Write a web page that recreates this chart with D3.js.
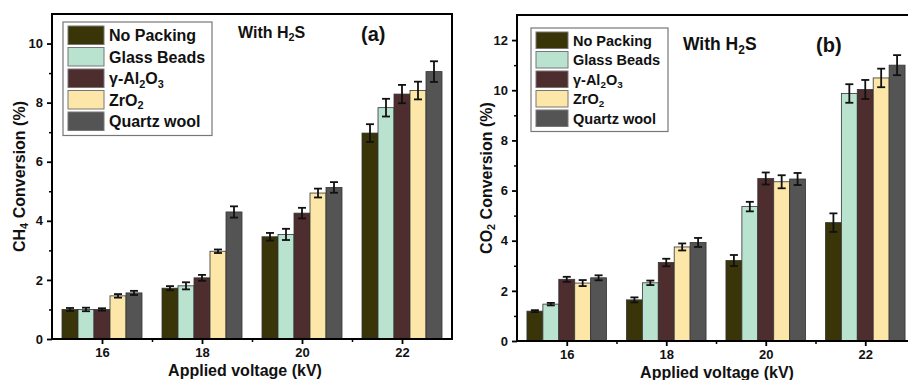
<!DOCTYPE html>
<html>
<head>
<meta charset="utf-8">
<script src="https://cdn.jsdelivr.net/npm/d3@7"></script>
<style>
  body { margin: 0; background: #fff; }
  text { font-family: "Liberation Sans", Arial, sans-serif; font-weight: bold; fill: #111; }
</style>
</head>
<body>
<div id="chart-area"></div>
<script>
// data
const voltages = [16, 18, 20, 22]
const packings = ["No Packing", "Glass Beads", "γ-Al2O3", "ZrO2", "Quartz wool"]
const colors = ["#3a3509", "#b9e3cf", "#4e2d2e", "#fde7a8", "#545454"]

// CH4 conversion (%), one array per packing, errors alongside
const ch4NoPacking = [1.00, 1.72, 3.46, 6.97]
const ch4Glass     = [1.00, 1.80, 3.54, 7.83]
const ch4Alumina   = [1.00, 2.07, 4.26, 8.29]
const ch4Zirconia  = [1.46, 2.97, 4.94, 8.41]
const ch4Quartz    = [1.56, 4.30, 5.13, 9.05]
const ch4Err = [
  [0.05, 0.07, 0.13, 0.30],
  [0.06, 0.12, 0.19, 0.30],
  [0.04, 0.10, 0.18, 0.31],
  [0.06, 0.06, 0.15, 0.30],
  [0.07, 0.19, 0.18, 0.35]
]

// CO2 conversion (%)
const co2NoPacking = [1.19, 1.64, 3.21, 4.72]
const co2Glass     = [1.47, 2.32, 5.36, 9.87]
const co2Alumina   = [2.46, 3.13, 6.48, 10.03]
const co2Zirconia  = [2.31, 3.75, 6.35, 10.49]
const co2Quartz    = [2.52, 3.93, 6.46, 11.00]
const co2Err = [
  [0.04, 0.10, 0.22, 0.37],
  [0.05, 0.09, 0.19, 0.37],
  [0.10, 0.15, 0.24, 0.38],
  [0.12, 0.14, 0.26, 0.37],
  [0.10, 0.18, 0.24, 0.40]
]

const ch4Ticks = [0, 2, 4, 6, 8, 10]
const co2Ticks = [0, 2, 4, 6, 8, 10, 12]

const svg = d3.select("#chart-area")
  .append("svg")
  .attr("width", 908)
  .attr("height", 380)

svg.append("rect").attr("width", 908).attr("height", 380).attr("fill", "#fff")

// writes "Al2O3"-like strings with subscripted digits
function chemText(sel, str) {
  const parts = str.split(/(\d)/).filter(p => p !== "")
  let afterSub = false
  parts.forEach(p => {
    if (/\d/.test(p)) {
      // 0.3em of the small font, measured in the small font
      sel.append("tspan").attr("font-size", "0.68em").attr("dy", "0.3em").text(p)
      afterSub = true
    } else {
      const t = sel.append("tspan").text(p)
      if (afterSub) t.attr("dy", "-0.204em")
      afterSub = false
    }
  })
}

function drawPanel(cfg) {
  const { left, top, width, height } = cfg
  const g = svg.append("g").attr("transform", `translate(${left},${top})`)

  const xScale = d3.scaleLinear().domain([15, 23]).range([0, width])
  const yScale = d3.scaleLinear().domain([0, cfg.yMax]).range([height, 0])
  const barW = xScale(15.32) - xScale(15)

  const clip = "clip-" + cfg.id
  g.append("clipPath").attr("id", clip)
    .append("rect").attr("x", -1).attr("y", -1).attr("width", width + 2).attr("height", height + 2)

  const rows = []
  cfg.series.forEach((vals, s) => {
    vals.forEach((v, i) => rows.push({ s, x: voltages[i], v, e: cfg.errs[s][i] }))
  })
  const barX = d => xScale(d.x) + (d.s - 2.5) * barW

  const marks = g.append("g").attr("clip-path", `url(#${clip})`)
  marks.selectAll("rect.bar")
    .data(rows)
    .join("rect")
    .attr("class", "bar")
    .attr("x", barX)
    .attr("y", d => yScale(d.v))
    .attr("width", barW)
    .attr("height", d => yScale(0) - yScale(d.v))
    .attr("fill", d => colors[d.s])
    .attr("stroke", "#333")
    .attr("stroke-width", 0.8)

  const err = marks.selectAll("g.err")
    .data(rows)
    .join("g")
    .attr("class", "err")
    .attr("stroke", "#111")
    .attr("stroke-width", 1.8)
  err.append("line")
    .attr("x1", d => barX(d) + barW / 2).attr("x2", d => barX(d) + barW / 2)
    .attr("y1", d => yScale(d.v + d.e)).attr("y2", d => yScale(d.v - d.e))
  err.append("line")
    .attr("x1", d => barX(d) + barW / 2 - 4).attr("x2", d => barX(d) + barW / 2 + 4)
    .attr("y1", d => yScale(d.v + d.e)).attr("y2", d => yScale(d.v + d.e))
  err.append("line")
    .attr("x1", d => barX(d) + barW / 2 - 4).attr("x2", d => barX(d) + barW / 2 + 4)
    .attr("y1", d => yScale(d.v - d.e)).attr("y2", d => yScale(d.v - d.e))

  // frame
  g.append("rect")
    .attr("width", width).attr("height", height)
    .attr("fill", "none").attr("stroke", "#000").attr("stroke-width", 2)

  // axes: major + minor ticks
  const yMinor = d3.range(1, cfg.yMax, 2)
  g.append("g")
    .call(d3.axisLeft(yScale).tickValues(yMinor).tickSize(3).tickFormat(""))
    .call(a => a.select(".domain").remove())
    .call(a => a.selectAll("line").attr("stroke-width", 1.5))
  g.append("g")
    .call(d3.axisLeft(yScale).tickValues(cfg.yTicks).tickSize(5).tickPadding(4))
    .call(a => a.select(".domain").remove())
    .call(a => a.selectAll("line").attr("stroke-width", 1.8))
    .call(a => a.selectAll("text").attr("font-size", 13).attr("font-family", null))

  g.append("g")
    .attr("transform", `translate(0,${height})`)
    .call(d3.axisBottom(xScale).tickValues([17, 19, 21]).tickSize(3).tickFormat(""))
    .call(a => a.select(".domain").remove())
    .call(a => a.selectAll("line").attr("stroke-width", 1.5))
  g.append("g")
    .attr("transform", `translate(0,${height})`)
    .call(d3.axisBottom(xScale).tickValues(voltages).tickSize(5).tickPadding(4))
    .call(a => a.select(".domain").remove())
    .call(a => a.selectAll("line").attr("stroke-width", 1.8))
    .call(a => a.selectAll("text").attr("font-size", 13).attr("font-family", null))

  g.append("text")
    .attr("x", xScale(19) + cfg.titleDx).attr("y", height + 37)
    .attr("text-anchor", "middle")
    .attr("font-size", 16)
    .text("Applied voltage (kV)")

  const yl = g.append("text")
    .attr("transform", `translate(${cfg.yLabelX},${height / 2}) rotate(-90)`)
    .attr("text-anchor", "middle")
    .attr("font-size", 16)
  chemText(yl, cfg.yLabel)

  // annotation
  const ann = g.append("text").attr("x", cfg.annX).attr("y", cfg.annY).attr("font-size", cfg.annSize)
  chemText(ann, "With H2S")
  g.append("text").attr("x", cfg.tagX).attr("y", cfg.tagY).attr("font-size", 20).text(cfg.tag)

  // legend
  const lg = g.append("g").attr("transform", `translate(${cfg.legX},${cfg.legY})`)
  lg.append("rect")
    .attr("width", cfg.legW).attr("height", cfg.legRow * 5 + 6)
    .attr("fill", "#fff").attr("stroke", "#777").attr("stroke-width", 1.2)
  const item = lg.selectAll("g.item")
    .data(packings)
    .join("g")
    .attr("class", "item")
    .attr("transform", (d, i) => `translate(5,${3 + i * cfg.legRow})`)
  item.append("rect")
    .attr("y", 1)
    .attr("width", cfg.swW).attr("height", cfg.legRow - 3)
    .attr("fill", (d, i) => colors[i])
    .attr("stroke", "#777").attr("stroke-width", 1)
  item.append("text")
    .attr("x", cfg.swW + 5)
    .attr("y", cfg.legRow / 2)
    .attr("dy", "0.35em")
    .attr("font-size", cfg.legFont)
    .each(function(d) { chemText(d3.select(this), d) })
}

drawPanel({
  id: "a", left: 52, top: 14, width: 400, height: 325, yMax: 11, yTicks: ch4Ticks,
  series: [ch4NoPacking, ch4Glass, ch4Alumina, ch4Zirconia, ch4Quartz], errs: ch4Err,
  yLabel: "CH4 Conversion (%)", yLabelX: -27, titleDx: -7,
  annX: 186, annY: 24, annSize: 16, tag: "(a)", tagX: 309, tagY: 27,
  legX: 11, legY: 8, legW: 149, legRow: 21.5, swW: 36, legFont: 16
})

drawPanel({
  id: "b", left: 517, top: 15, width: 398, height: 326, yMax: 13, yTicks: co2Ticks,
  series: [co2NoPacking, co2Glass, co2Alumina, co2Zirconia, co2Quartz], errs: co2Err,
  yLabel: "CO2 Conversion (%)", yLabelX: -25, titleDx: 1,
  annX: 166, annY: 35, annSize: 17.5, tag: "(b)", tagX: 299, tagY: 37,
  legX: 14, legY: 13, legW: 137, legRow: 19.5, swW: 32, legFont: 14.5
})
</script>
</body>
</html>
